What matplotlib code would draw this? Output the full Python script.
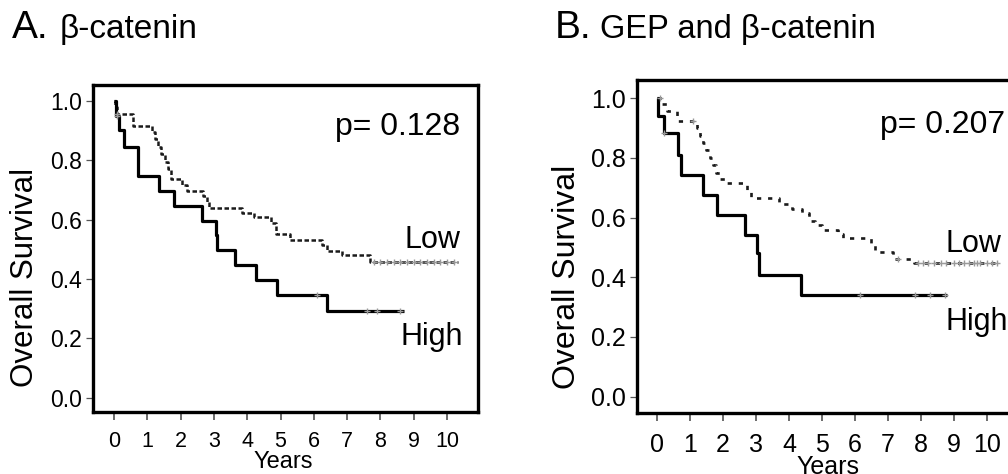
import matplotlib
matplotlib.use("Agg")
import matplotlib.pyplot as plt
import numpy as np

plt.rcParams["font.family"] = ["Liberation Sans", "DejaVu Sans"]

# Panel A: beta-catenin (Kaplan-Meier steps: time of drop, survival after drop)
a_high_t = [0, 0.05, 0.15, 0.3, 0.73, 1.35, 1.8, 2.65, 3.05, 3.1, 3.63, 4.25, 4.88, 6.4]
a_high_s = [1.0, 0.95, 0.9, 0.845, 0.745, 0.695, 0.645, 0.595, 0.547, 0.497, 0.446, 0.396, 0.346, 0.293]
a_high_end = 8.7
a_high_cens = [0.1, 6.1, 7.6, 7.9, 8.6]

a_low_t = [0, 0.03, 0.08, 0.58, 1.13, 1.22, 1.32, 1.42, 1.52, 1.62, 1.72, 2.05, 2.18,
           2.68, 2.78, 2.85, 3.83, 4.2, 4.7, 4.85, 5.3, 6.25, 6.4, 6.85, 7.7]
a_low_s = [1.0, 0.98, 0.955, 0.915, 0.895, 0.87, 0.845, 0.82, 0.795, 0.77, 0.735, 0.715, 0.695,
           0.68, 0.66, 0.64, 0.623, 0.607, 0.59, 0.551, 0.53, 0.513, 0.494, 0.479, 0.457]
a_low_end = 10.32
a_low_cens = [0.1, 7.8, 8.0, 8.2, 8.4, 8.6, 8.8, 9.0, 9.2, 9.4, 9.6, 9.8, 10.0, 10.2]

# Panel B: GEP and beta-catenin
b_high_t = [0, 0.02, 0.2, 0.65, 0.72, 1.4, 1.81, 2.67, 3.02, 3.1, 4.35]
b_high_s = [1.0, 0.94, 0.883, 0.81, 0.743, 0.676, 0.609, 0.542, 0.48, 0.408, 0.341]
b_high_end = 8.78
b_high_cens = [0.2, 6.15, 7.82, 8.27, 8.73]

b_low_t = [0, 0.15, 0.3, 0.6, 1.2, 1.3, 1.4, 1.5, 1.6, 1.7, 1.8, 1.9, 2.1, 2.72, 2.85,
           3.7, 4.1, 4.4, 4.6, 4.8, 5.0, 5.5, 5.65, 6.5, 6.6, 7.15, 7.8]
b_low_s = [1.0, 0.98, 0.957, 0.922, 0.9, 0.875, 0.85, 0.825, 0.8, 0.775, 0.75, 0.73, 0.717,
           0.69, 0.666, 0.645, 0.63, 0.615, 0.59, 0.575, 0.559, 0.545, 0.531, 0.51, 0.486, 0.461, 0.447]
b_low_end = 10.35
b_low_cens = [0.1, 1.1, 7.3, 7.9, 8.05, 8.2, 8.4, 8.6, 8.75, 9.0, 9.15, 9.3, 9.45, 9.6,
              9.7, 9.8, 10.0, 10.15, 10.3]

x_ticks = list(range(0, 11))
y_ticks = [0.0, 0.2, 0.4, 0.6, 0.8, 1.0]


def surv_at(times, surv, t):
    idx = np.searchsorted(times, t, side="right") - 1
    return np.asarray(surv)[idx]


def km(ax, times, surv, end, cens, **kw):
    t = list(times) + [end]
    s = list(surv) + [surv[-1]]
    ax.step(t, s, where="post", solid_capstyle="butt", **kw)
    ax.plot(cens, surv_at(times, surv, cens), ls="none", marker="+", ms=4.5,
            mew=1.0, color="#9a9a9a", zorder=4)


def style(ax, xlim, ylim, xfs, yfs, xpad):
    ax.set_xlim(*xlim)
    ax.set_ylim(*ylim)
    for sp in ax.spines.values():
        sp.set_linewidth(2.4)
        sp.set_color("black")
    ax.set_xticks(x_ticks)
    ax.set_yticks(y_ticks, [f"{v:.1f}" for v in y_ticks])
    ax.tick_params(axis="x", length=6, width=1.1, color="#444444", pad=xpad, labelsize=xfs)
    ax.tick_params(axis="y", length=5, width=0.9, color="#555555", pad=3, labelsize=yfs)


fig = plt.figure(figsize=(10.08, 4.74), dpi=100)

# ---- Panel A
ax = fig.add_axes([93 / 1008, 1 - 412 / 474, 385 / 1008, 327 / 474])
km(ax, a_low_t, a_low_s, a_low_end, a_low_cens, color="#1a1a1a", lw=1.8, ls=(0, (1.8, 1.0)))
km(ax, a_high_t, a_high_s, a_high_end, a_high_cens, color="black", lw=2.3)
style(ax, (-0.63, 10.93), (-0.048, 1.053), 15.5, 16.5, 7.5)
ax.set_xlabel("Years", fontsize=17)
ax.xaxis.set_label_coords(0.494, -0.118)
ax.set_ylabel("Overall Survival", fontsize=22.5)
ax.yaxis.set_label_coords(-0.138, 0.41)
ax.text(10.39, 0.883, "p= 0.128", fontsize=23, ha="right", va="baseline")
ax.text(10.39, 0.503, "Low", fontsize=22, ha="right", va="baseline")
ax.text(10.48, 0.177, "High", fontsize=22, ha="right", va="baseline")

fig.text(12 / 1008, 1 - 38 / 474, "A.", fontsize=28, ha="left", va="baseline")
fig.text(60 / 1008, 1 - 38 / 474, "\u03b2-catenin", fontsize=24, ha="left", va="baseline")

# ---- Panel B
ax = fig.add_axes([637 / 1008, 1 - 413 / 474, 381 / 1008, 333 / 474])
km(ax, b_low_t, b_low_s, b_low_end, b_low_cens, color="#1a1a1a", lw=1.9, ls=(0, (1.6, 2.6)))
km(ax, b_high_t, b_high_s, b_high_end, b_high_cens, color="black", lw=2.3)
style(ax, (-0.606, 10.94), (-0.055, 1.061), 18, 18, 8.5)
ax.set_xlabel("Years", fontsize=18)
ax.xaxis.set_label_coords(0.501, -0.126)
ax.set_ylabel("Overall Survival", fontsize=23)
ax.yaxis.set_label_coords(-0.144, 0.41)
ax.text(10.55, 0.883, "p= 0.207", fontsize=23, ha="right", va="baseline")
ax.text(8.73, 0.486, "Low", fontsize=22, ha="left", va="baseline")
ax.text(8.73, 0.224, "High", fontsize=22, ha="left", va="baseline")

fig.text(555 / 1008, 1 - 38 / 474, "B.", fontsize=28, ha="left", va="baseline")
fig.text(600 / 1008, 1 - 38 / 474, "GEP and \u03b2-catenin", fontsize=23.5, ha="left", va="baseline")

fig.savefig("out.png", dpi=100, facecolor="white")
